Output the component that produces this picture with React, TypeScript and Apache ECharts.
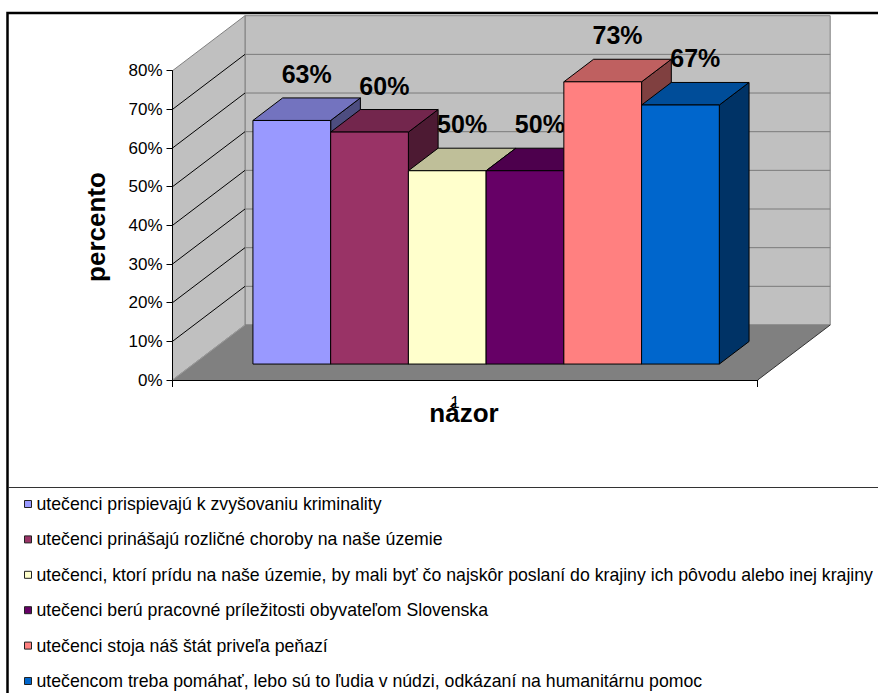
import React, { useEffect, useRef } from "react";
import * as echarts from "echarts";

// ---- data ----
const categories: string[] = [
  "utečenci prispievajú k zvyšovaniu kriminality",
  "utečenci prinášajú rozličné choroby na naše územie",
  "utečenci, ktorí prídu na naše územie, by mali byť čo najskôr poslaní do krajiny ich pôvodu alebo inej krajiny",
  "utečenci berú pracovné príležitosti obyvateľom Slovenska",
  "utečenci stoja náš štát priveľa peňazí",
  "utečencom treba pomáhať, lebo sú to ľudia v núdzi, odkázaní na humanitárnu pomoc",
];
const values: number[] = [63, 60, 50, 50, 73, 67];
const xCategory: string[] = ["1"];
const yTicks: number[] = [0, 10, 20, 30, 40, 50, 60, 70, 80];
const yTitle = "percento";
const xTitle = "názor";

// ---- style ----
const colors = ["#9999FF", "#993366", "#FFFFCC", "#660066", "#FF8080", "#0066CC"];
const FONT = "'Liberation Sans', Arial, Helvetica, sans-serif";
const WALL_DX = 72.5;
const WALL_DY = -55;
const BAR_FRONT = 0.29;
const BAR_BACK = 0.7;
const GROUP_FRAC = 0.797;

function shade(hex: string, f: number): string {
  const n = parseInt(hex.slice(1), 16);
  const r = Math.round(((n >> 16) & 255) * f);
  const g = Math.round(((n >> 8) & 255) * f);
  const b = Math.round((n & 255) * f);
  return "rgb(" + r + "," + g + "," + b + ")";
}

export default function App() {
  const ref = useRef<HTMLDivElement>(null);

  useEffect(() => {
    if (!ref.current) return;
    const chart = echarts.init(ref.current, undefined, { renderer: "svg" });
    const yMax = yTicks[yTicks.length - 1];

    const wallSeries: any = {
      type: "custom",
      name: "walls",
      silent: true,
      clip: false,
      z: 1,
      data: [[0, 0]],
      renderItem: (params: any, api: any) => {
        const base = api.coord([0, 0]);
        const catW = api.size([1, 0])[0];
        const x0 = base[0] - catW / 2;
        const x1 = base[0] + catW / 2;
        const yAt = (v: number) => api.coord([0, v])[1];
        const y0 = yAt(0);
        const yTop = yAt(yMax);
        const bx0 = x0 + WALL_DX;
        const bx1 = x1 + WALL_DX;
        const children: any[] = [];
        // back wall
        children.push({
          type: "polygon",
          shape: { points: [[bx0, y0 + WALL_DY], [bx1, y0 + WALL_DY], [bx1, yTop + WALL_DY], [bx0, yTop + WALL_DY]] },
          style: { fill: "#C0C0C0", stroke: "#808080", lineWidth: 1 },
        });
        // left wall
        children.push({
          type: "polygon",
          shape: { points: [[x0, y0], [x0, yTop], [bx0, yTop + WALL_DY], [bx0, y0 + WALL_DY]] },
          style: { fill: "#C0C0C0", stroke: "#808080", lineWidth: 1 },
        });
        // floor
        children.push({
          type: "polygon",
          shape: { points: [[x0, y0], [x1, y0], [bx1, y0 + WALL_DY], [bx0, y0 + WALL_DY]] },
          style: { fill: "#808080", stroke: "none" },
        });
        // gridlines
        yTicks.forEach((t) => {
          if (t === 0 || t === yMax) return;
          const y = yAt(t);
          children.push({
            type: "line",
            shape: { x1: bx0, y1: y + WALL_DY, x2: bx1, y2: y + WALL_DY },
            style: { stroke: "#7a7a7a", lineWidth: 1 },
          });
          children.push({
            type: "line",
            shape: { x1: x0, y1: y, x2: bx0, y2: y + WALL_DY },
            style: { stroke: "#000", lineWidth: 1 },
          });
        });
        // floor edges
        children.push({
          type: "line",
          shape: { x1: x0, y1: y0, x2: bx0, y2: y0 + WALL_DY },
          style: { stroke: "#9a9a9a", lineWidth: 1 },
        });
        children.push({
          type: "line",
          shape: { x1: bx0, y1: y0 + WALL_DY, x2: bx1, y2: y0 + WALL_DY },
          style: { stroke: "#808080", lineWidth: 1 },
        });
        children.push({
          type: "line",
          shape: { x1: x1, y1: y0, x2: bx1, y2: y0 + WALL_DY },
          style: { stroke: "#333", lineWidth: 1 },
        });
        return { type: "group", children };
      },
    };

    const n = values.length;
    const barSeries: any[] = categories.map((name, i) => ({
      type: "custom",
      name,
      clip: false,
      z: 2 + i,
      itemStyle: { color: colors[i] },
      data: [[0, values[i]]],
      renderItem: (params: any, api: any) => {
        const v = api.value(1);
        const base = api.coord([0, 0]);
        const top = api.coord([0, v]);
        const catW = api.size([1, 0])[0];
        const bw = (catW * GROUP_FRAC) / n;
        const fx = base[0] - (catW * GROUP_FRAC) / 2 + i * bw + WALL_DX * BAR_FRONT;
        const fy0 = base[1] + WALL_DY * BAR_FRONT;
        const fy1 = top[1] + WALL_DY * BAR_FRONT;
        const ddx = WALL_DX * (BAR_BACK - BAR_FRONT);
        const ddy = WALL_DY * (BAR_BACK - BAR_FRONT);
        const edge = { stroke: "#000", lineWidth: 1, lineJoin: "round" };
        return {
          type: "group",
          children: [
            {
              type: "polygon",
              shape: { points: [[fx + bw, fy0], [fx + bw + ddx, fy0 + ddy], [fx + bw + ddx, fy1 + ddy], [fx + bw, fy1]] },
              style: { fill: shade(colors[i], 0.5), ...edge },
            },
            {
              type: "polygon",
              shape: { points: [[fx, fy1], [fx + ddx, fy1 + ddy], [fx + bw + ddx, fy1 + ddy], [fx + bw, fy1]] },
              style: { fill: shade(colors[i], 0.75), ...edge },
            },
            {
              type: "rect",
              shape: { x: fx, y: fy1, width: bw, height: fy0 - fy1 },
              style: { fill: colors[i], ...edge },
            },
            {
              type: "text",
              z2: 100,
              style: {
                text: v + "%",
                x: fx + bw / 2 + ddx / 2,
                y: fy1 + ddy - 24,
                align: "center",
                verticalAlign: "middle",
                fill: "#000",
                font: "bold 25px " + FONT,
              },
            },
          ],
        };
      },
    }));

    chart.setOption({
      animation: false,
      color: colors,
      grid: { left: 172.5, top: 70.7, width: 585.2, height: 309.3, containLabel: false },
      xAxis: {
        type: "category",
        data: xCategory,
        boundaryGap: true,
        z: 10,
        axisLine: { show: true, lineStyle: { color: "#000", width: 1 } },
        axisTick: { show: true, length: 7, alignWithLabel: false, lineStyle: { color: "#000" } },
        axisLabel: { fontSize: 17, color: "#000", fontFamily: FONT, margin: 14, padding: [0, 20, 0, 0] },
        splitLine: { show: false },
      },
      yAxis: {
        type: "value",
        min: 0,
        max: yMax,
        interval: 10,
        z: 10,
        axisLine: { show: true, lineStyle: { color: "#000", width: 1 } },
        axisTick: { show: true, length: 6, lineStyle: { color: "#000" } },
        axisLabel: { formatter: "{value}%", fontSize: 17, color: "#000", fontFamily: FONT, margin: 10 },
        splitLine: { show: false },
      },
      legend: {
        data: categories,
        orient: "vertical",
        left: 24,
        top: 494,
        padding: 0,
        itemWidth: 7,
        itemHeight: 7,
        itemGap: 15.4,
        icon: "rect",
        selectedMode: false,
        itemStyle: { borderColor: "#222", borderWidth: 1 },
        textStyle: { fontSize: 17.7, color: "#000", fontFamily: FONT, lineHeight: 20 },
      },
      graphic: [
        {
          type: "rect",
          z: 100,
          silent: true,
          shape: { x: 7.5, y: 13, width: 900, height: 720 },
          style: { fill: "none", stroke: "#000", lineWidth: 2.5 },
        },
        {
          type: "line",
          z: 100,
          silent: true,
          shape: { x1: 8, y1: 487.5, x2: 878, y2: 487.5 },
          style: { stroke: "#333", lineWidth: 1 },
        },
        {
          type: "text",
          z: 100,
          x: 96,
          y: 227,
          rotation: Math.PI / 2,
          style: { text: yTitle, align: "center", verticalAlign: "middle", fill: "#000", font: "bold 26px " + FONT },
        },
        {
          type: "text",
          z: 100,
          x: 464,
          y: 413,
          style: { text: xTitle, align: "center", verticalAlign: "middle", fill: "#000", font: "bold 26px " + FONT },
        },
      ],
      series: [wallSeries, ...barSeries],
    });

    return () => chart.dispose();
  }, []);

  return (
    <div
      ref={ref}
      style={{ position: "fixed", left: 0, top: 0, width: 878, height: 693, background: "#fff" }}
    />
  );
}
